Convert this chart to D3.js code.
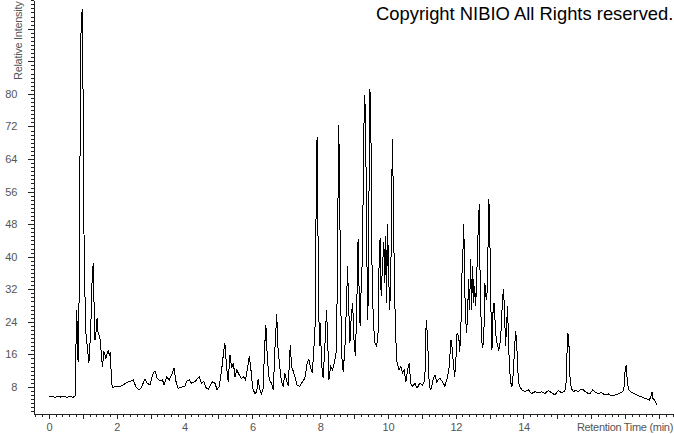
<!DOCTYPE html>
<html>
<head>
<meta charset="utf-8">
<script src="https://cdn.jsdelivr.net/npm/d3@7"></script>
<style>
  body { margin: 0; background: #fff; }
  .tick text { fill: #555; font-family: "Liberation Sans", Arial, sans-serif; font-size: 11px; letter-spacing: -0.3px; }
  .axis path, .axis line { stroke: #222; shape-rendering: crispEdges; }
  .axis-title { fill: #555; font-family: "Liberation Sans", Arial, sans-serif; font-size: 11px; letter-spacing: -0.3px; }
  .copyright { fill: #000; font-family: "Liberation Sans", Arial, sans-serif; font-size: 18.4px; }
  .trace { fill: none; stroke: #000; stroke-width: 1; shape-rendering: crispEdges; }
</style>
</head>
<body>
<div id="chart"></div>
<script>
// [retention time (min), relative intensity]
var injectionFront = [
    [0.00, 5.5], [0.09, 5.8], [0.18, 5.4], [0.27, 5.8], [0.35, 5.5], [0.44, 5.7], [0.53, 5.4], [0.62, 5.7],
    [0.71, 5.4], [0.77, 5.8], [0.79, 14.7], [0.82, 27.0], [0.86, 14.2], [0.89, 29.5], [0.91, 54.6], [0.94, 93.7],
    [0.96, 97.4], [0.98, 100.8], [1.00, 86.3], [1.02, 68.2], [1.04, 38.6], [1.09, 21.3], [1.14, 17.1], [1.18, 13.9],
    [1.23, 21.3], [1.28, 36.1], [1.31, 38.4], [1.34, 24.5], [1.36, 19.6], [1.40, 22.1], [1.42, 25.0], [1.45, 21.3],
    [1.50, 20.4], [1.58, 13.0], [1.62, 16.7], [1.68, 15.1], [1.75, 17.1], [1.78, 15.9], [1.81, 16.6], [1.85, 9.0],
    [1.88, 7.8]
];

var lowRegion = [
    [1.90, 7.9], [2.00, 8.2], [2.09, 8.1], [2.19, 8.5], [2.29, 9.1], [2.39, 9.3], [2.49, 9.7], [2.57, 7.9],
    [2.66, 7.3], [2.73, 7.9], [2.83, 9.9], [2.90, 8.9], [2.98, 8.5], [3.06, 11.0], [3.13, 12.0], [3.19, 10.1],
    [3.27, 9.6], [3.35, 9.7], [3.40, 8.5], [3.47, 10.4], [3.55, 9.7], [3.62, 11.0], [3.69, 12.6], [3.75, 9.3],
    [3.81, 7.7], [3.91, 7.9], [4.01, 8.2], [4.08, 9.6], [4.14, 9.7], [4.21, 8.9], [4.31, 9.3], [4.43, 10.5],
    [4.50, 8.9], [4.57, 9.3], [4.63, 7.9], [4.70, 7.4], [4.77, 8.5], [4.83, 9.3], [4.90, 8.9], [4.96, 7.3],
    [5.02, 8.1], [5.09, 11.8], [5.14, 15.5], [5.19, 18.9], [5.24, 13.0], [5.29, 9.3], [5.34, 15.9], [5.39, 12.6],
    [5.44, 13.9], [5.49, 10.5], [5.54, 12.2], [5.61, 11.0], [5.68, 10.1], [5.75, 10.5], [5.80, 9.7], [5.85, 12.2],
    [5.91, 15.5], [5.96, 12.2], [6.01, 7.7], [6.08, 6.3], [6.13, 6.8], [6.17, 9.9], [6.22, 7.3], [6.27, 6.3],
    [6.32, 7.7], [6.36, 17.1], [6.40, 23.3], [6.44, 15.5], [6.50, 9.7], [6.57, 8.9], [6.62, 7.3], [6.67, 17.9],
    [6.72, 25.8], [6.76, 17.1], [6.81, 13.0], [6.86, 9.3], [6.91, 8.1], [6.96, 11.4], [7.01, 9.7], [7.06, 8.2]
];

var mainCluster = [
    [7.12, 18.4], [7.16, 13.0], [7.21, 11.8], [7.26, 10.5], [7.32, 8.5], [7.40, 8.1], [7.48, 9.3], [7.55, 10.1],
    [7.62, 13.9], [7.67, 14.7], [7.72, 12.6], [7.77, 11.4], [7.82, 18.0], [7.85, 22.9], [7.87, 43.5], [7.90, 61.6],
    [7.91, 69.4], [7.94, 43.5], [7.96, 26.2], [7.99, 18.0], [8.01, 23.7], [8.04, 13.9], [8.09, 10.1], [8.14, 18.0],
    [8.19, 27.0], [8.22, 20.4], [8.26, 9.7], [8.31, 13.0], [8.37, 12.2], [8.42, 13.9], [8.47, 16.3], [8.50, 28.7],
    [8.53, 55.8], [8.55, 72.3], [8.58, 55.0], [8.60, 32.8], [8.64, 15.5], [8.68, 11.8], [8.73, 17.1], [8.78, 28.7],
    [8.81, 37.7], [8.84, 28.7], [8.88, 18.8], [8.92, 25.4], [8.96, 28.7], [9.00, 19.6], [9.04, 15.5], [9.08, 27.0],
    [9.12, 44.3], [9.14, 35.2], [9.18, 22.9], [9.21, 32.0], [9.25, 40.2], [9.29, 71.5], [9.32, 79.7], [9.35, 65.7],
    [9.38, 39.4], [9.41, 24.5], [9.44, 53.4], [9.47, 81.3], [9.50, 69.8], [9.53, 38.5], [9.57, 23.7], [9.62, 18.8],
    [9.67, 18.0], [9.71, 21.3], [9.74, 38.5], [9.77, 44.7], [9.80, 30.3], [9.84, 37.7], [9.88, 43.5], [9.91, 33.6],
    [9.94, 45.1], [9.96, 28.7], [9.99, 48.0], [10.02, 36.9], [10.05, 27.0], [10.08, 32.0], [10.11, 51.7], [10.13, 69.0],
    [10.16, 55.8], [10.19, 33.6], [10.23, 20.4], [10.27, 13.9], [10.33, 12.2], [10.38, 13.0], [10.43, 11.4], [10.48, 12.2],
    [10.53, 9.3], [10.58, 12.2], [10.63, 13.9], [10.67, 8.9], [10.73, 8.1], [10.80, 8.9], [10.86, 7.7], [10.94, 8.9],
    [11.02, 8.5], [11.09, 9.7], [11.13, 24.5], [11.16, 21.3], [11.19, 15.5], [11.22, 8.1], [11.27, 7.3], [11.34, 10.1],
    [11.39, 11.0], [11.44, 9.3]
];

var lateRegion = [
    [11.53, 10.1], [11.61, 9.3], [11.68, 8.2], [11.75, 10.1], [11.81, 13.0], [11.86, 19.6], [11.89, 18.0], [11.93, 13.9],
    [11.97, 10.5], [12.01, 15.5], [12.04, 21.3], [12.09, 20.4], [12.12, 16.7], [12.16, 24.5], [12.19, 37.3], [12.22, 42.6],
    [12.24, 48.0], [12.26, 34.4], [12.29, 25.4], [12.32, 21.3], [12.35, 25.4], [12.38, 34.4], [12.41, 27.0], [12.44, 39.4],
    [12.47, 27.0], [12.50, 37.7], [12.53, 28.7], [12.56, 32.8], [12.59, 27.8], [12.62, 35.2], [12.65, 42.6], [12.67, 49.2],
    [12.70, 52.9], [12.71, 40.2], [12.74, 27.0], [12.77, 19.2], [12.80, 17.6], [12.83, 20.4], [12.86, 33.6], [12.89, 30.3],
    [12.92, 29.5], [12.95, 41.0], [12.98, 54.2], [13.01, 43.5], [13.04, 27.0], [13.07, 17.1], [13.10, 26.2], [13.13, 28.7],
    [13.16, 24.5], [13.19, 20.4], [13.22, 18.8], [13.27, 17.1], [13.30, 18.0], [13.34, 22.1], [13.38, 29.5], [13.41, 32.0],
    [13.44, 27.0], [13.47, 18.0], [13.50, 22.9], [13.53, 27.8], [13.56, 18.8], [13.59, 12.2], [13.63, 8.9], [13.66, 8.1],
    [13.70, 11.4], [13.74, 18.0], [13.77, 21.7], [13.80, 18.8], [13.83, 12.2], [13.87, 8.5], [13.94, 7.4], [14.04, 6.8],
    [14.14, 7.3], [14.24, 6.4], [14.34, 6.8], [14.43, 6.6], [14.53, 6.8], [14.63, 6.4], [14.73, 7.1], [14.83, 6.6],
    [14.93, 6.0], [15.02, 7.1], [15.12, 6.6], [15.19, 6.8], [15.25, 7.7], [15.28, 15.5], [15.31, 21.3], [15.34, 18.8],
    [15.37, 10.5], [15.41, 7.7], [15.47, 6.8], [15.55, 7.3], [15.61, 6.8], [15.68, 7.4], [15.76, 7.3], [15.86, 6.6],
    [15.96, 6.3], [16.04, 7.3], [16.11, 6.8], [16.20, 6.4], [16.30, 6.6], [16.40, 6.0], [16.50, 6.3], [16.60, 5.8],
    [16.70, 6.0], [16.79, 6.3], [16.89, 6.6], [16.96, 7.3], [17.00, 12.2], [17.03, 13.4], [17.06, 9.7], [17.10, 7.3],
    [17.19, 6.6], [17.29, 6.3], [17.38, 5.8], [17.48, 5.6], [17.58, 5.2], [17.65, 5.0], [17.71, 4.8], [17.76, 5.6],
    [17.79, 6.8], [17.82, 5.2], [17.86, 4.8], [17.91, 4.0], [17.94, 3.6]
];

var xTickLabels = [0, 2, 4, 6, 8, 10, 12, 14];
var yTickLabels = [8, 16, 24, 32, 40, 48, 56, 64, 72, 80];
var xTitle = "Retention Time (min)";
var yTitle = "Relative Intensity";
var copyright = "Copyright NIBIO All Rights reserved.";

var svg = d3.select("#chart")
        .append("svg")
        .attr("width", 674)
        .attr("height", 434),
    left = 34,
    bottom = 414,
    x = d3.scaleLinear()
        .domain([-0.44, 18.44])
        .range([left, 674]),
    y = d3.scaleLinear()
        .domain([1.35, 103.07])
        .range([bottom, 0]);

var trace = injectionFront.concat(lowRegion, mainCluster, lateRegion);

var line = d3.line()
    .x(function(d) { return x(d[0]); })
    .y(function(d) { return y(d[1]); });

// y axis: minor every 1, major every 8
var yAxis = svg.append("g")
    .attr("class", "axis")
    .attr("transform", "translate(" + left + ",0)");

yAxis.append("g")
    .call(d3.axisLeft(y)
        .tickValues(d3.range(2, 104, 1))
        .tickSize(3)
        .tickSizeOuter(0)
        .tickFormat(""));

yAxis.append("g")
    .call(d3.axisLeft(y)
        .tickValues(d3.range(8, 104, 8))
        .tickSize(6)
        .tickSizeOuter(0)
        .tickPadding(11)
        .tickFormat(function(d) { return yTickLabels.indexOf(d) >= 0 ? d : ""; }));

// x axis: minor every 0.2, major every 1
var xAxis = svg.append("g")
    .attr("class", "axis")
    .attr("transform", "translate(0," + bottom + ")");

xAxis.append("g")
    .call(d3.axisBottom(x)
        .tickValues(d3.range(-2, 93).map(function(i) { return i / 5; }))
        .tickSize(3)
        .tickSizeOuter(0)
        .tickFormat(""));

xAxis.append("g")
    .call(d3.axisBottom(x)
        .tickValues(d3.range(0, 19))
        .tickSize(5)
        .tickSizeOuter(0)
        .tickPadding(4)
        .tickFormat(function(d) { return xTickLabels.indexOf(d) >= 0 ? d : ""; }));

svg.append("text")
    .attr("class", "axis-title")
    .attr("x", 673)
    .attr("y", 431)
    .attr("text-anchor", "end")
    .text(xTitle);

svg.append("text")
    .attr("class", "axis-title")
    .attr("transform", "translate(22,80) rotate(-90)")
    .text(yTitle);

svg.append("text")
    .attr("class", "copyright")
    .attr("x", 376)
    .attr("y", 20)
    .text(copyright);

svg.append("path")
    .datum(trace)
    .attr("class", "trace")
    .attr("d", line);
</script>
</body>
</html>
